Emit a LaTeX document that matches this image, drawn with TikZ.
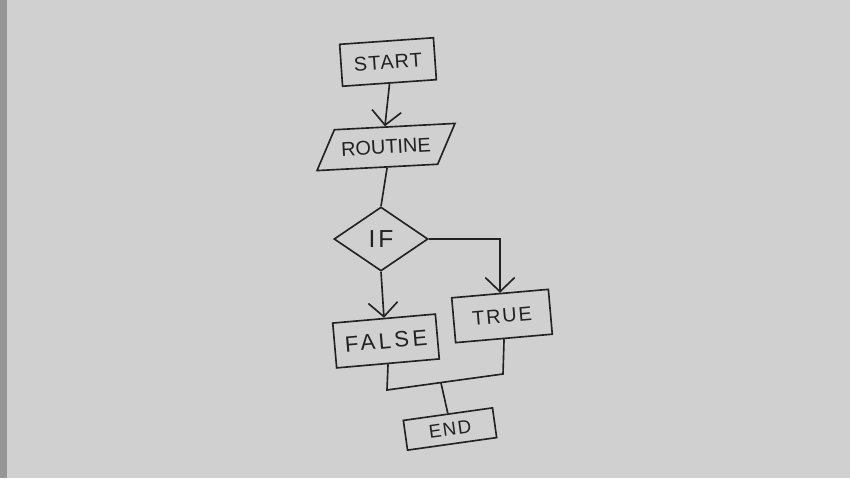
\documentclass[tikz,border=0pt]{standalone}
\usepackage{fontspec}
\setmainfont{Liberation Sans}
\usetikzlibrary{shapes.geometric,arrows.meta}
\definecolor{paper}{RGB}{208,208,208}
\definecolor{paperedge}{RGB}{150,150,150}
\definecolor{ink}{RGB}{34,34,34}
\tikzset{
  box/.style={draw, rectangle, inner sep=2pt, font=\fontsize{17}{17}\selectfont},
  slantbox/.style={draw, trapezium, trapezium left angle=64, trapezium right angle=116,
    inner xsep=5pt, inner ysep=11pt, font=\fontsize{17}{17}\selectfont},
  test/.style={draw, diamond, aspect=1.5, inner sep=1pt,
    font=\fontsize{21}{21}\selectfont\addfontfeature{LetterSpace=12}}
}
\begin{document}
\begin{tikzpicture}[x=0.03cm, y=-0.03cm, color=ink, line width=1.4pt,
    >={Straight Barb[length=12pt,width=25pt]}]
  % paper
  \fill[paper] (0,0) rectangle (850,478);
  \fill[paperedge] (0,0) rectangle (7,478);
  \useasboundingbox (0,0) rectangle (850,478);
  \draw
    (388,62) node[box, minimum width=2.82cm, minimum height=1.26cm, rotate=4,
      font=\fontsize{17}{17}\selectfont\addfontfeature{LetterSpace=6}] (start){START}
    (386,147) node[slantbox, rotate=3] (routine){ROUTINE}
    (381,239) node[test, minimum width=2.82cm, minimum height=1.92cm] (if){IF}
    (386,341) node[box, minimum width=3.09cm, minimum height=1.35cm, rotate=5,
      font=\fontsize{19}{19}\selectfont\addfontfeature{LetterSpace=15}] (false){FALSE}
    (502,316) node[box, minimum width=2.91cm, minimum height=1.35cm, rotate=5,
      font=\fontsize{17}{17}\selectfont\addfontfeature{LetterSpace=9}] (true){TRUE}
    (450,429) node[box, minimum width=2.7cm, minimum height=0.9cm, rotate=8,
      font=\fontsize{16}{16}\selectfont\addfontfeature{LetterSpace=8}] (end){END};
  \coordinate (joinL) at (387,390);
  \coordinate (joinR) at (503,374);
  \coordinate (join) at (441,383);
  % connectors
  \draw[->] (start.south) to (routine.north);
  \draw (routine.south) to (if.north);
  \draw[->] (if.east) -| (true.north);
  \draw[->] (if.south) to (false.north);
  \draw (false.south) -- (joinL) -- (joinR) -- (true.south);
  \draw (join) to (end.north);
\end{tikzpicture}
\end{document}
